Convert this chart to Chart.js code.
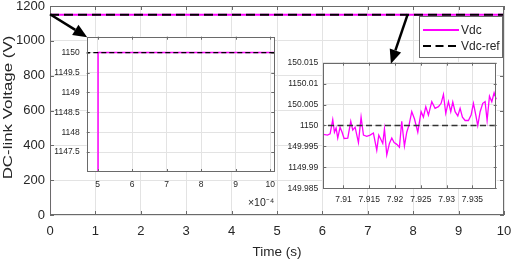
<!DOCTYPE html>
<html><head><meta charset="utf-8">
<script src="https://cdn.jsdelivr.net/npm/chart.js@4.4.1/dist/chart.umd.min.js"></script>
<style>
html,body{margin:0;padding:0;background:#fff;}
#wrap{position:relative;width:512px;height:263px;overflow:hidden;background:#fff;}
canvas{position:absolute;}
#main{left:0;top:0;width:512px;height:263px;}
#in1{left:52px;top:30px;width:230px;height:182px;}
#in2{left:283px;top:56px;width:220px;height:170px;}
#ov{left:0;top:0;width:512px;height:263px;pointer-events:none;}
</style></head><body>
<div id="wrap">
<canvas id="main" width="512" height="263"></canvas>
<canvas id="in1" width="230" height="182"></canvas>
<canvas id="in2" width="220" height="170"></canvas>
<canvas id="ov" width="512" height="263"></canvas>
</div>
<script>
// ---- data ----
const seriesNames = ['Vdc', 'Vdc-ref'];
const yTitle = 'DC-link Voltage (V)';
const xTitle = 'Time (s)';
const riseTime = [0, 0.000501, 0.000501];
const riseVolt = [0, 0, 1150];
const zoomTime = [7.90612, 7.9069, 7.90742, 7.90793, 7.90826, 7.90858, 7.9089, 7.90935, 7.90974, 7.91013,
  7.91084, 7.91142, 7.91181, 7.91226, 7.91291, 7.91342, 7.91388, 7.91452, 7.91517, 7.91581,
  7.91646, 7.91685, 7.91724, 7.91762, 7.91795, 7.9184, 7.91891, 7.91937, 7.91982, 7.92034,
  7.92085, 7.9213, 7.92182, 7.92227, 7.92273, 7.92324, 7.92376, 7.92441, 7.92505, 7.9255,
  7.92596, 7.92647, 7.92712, 7.92776, 7.92841, 7.92893, 7.92938, 7.92983, 7.93035, 7.9308,
  7.93119, 7.93164, 7.93216, 7.93261, 7.93306, 7.93358, 7.93422, 7.93474, 7.93519, 7.93565,
  7.93603, 7.93649, 7.937, 7.93745, 7.93784, 7.9383, 7.93875, 7.9392, 7.93959];
const zoomVolt = [1149.99787, 1149.9977, 1149.998, 1150.0014, 1149.9984, 1149.9994, 1149.997, 1149.9996, 1149.9984, 1149.9969,
  1149.997, 1150.001, 1149.9989, 1149.9996, 1149.9959, 1150.002, 1149.9977, 1149.9974, 1149.9977, 1149.9982,
  1149.9941, 1149.9977, 1149.9967, 1149.9957, 1149.9992, 1149.993, 1149.9957, 1149.997, 1149.9959, 1149.9955,
  1149.9948, 1150.001, 1149.9951, 1149.9984, 1150.0002, 1150.0033, 1150.0016, 1149.9984, 1150.0033, 1150.002,
  1150.0045, 1150.0025, 1150.0057, 1150.0041, 1150.0045, 1150.0053, 1150.0074, 1150.0029, 1150.0057, 1150.0033,
  1150.0056, 1150.0033, 1150.0023, 1150.0041, 1150.002, 1150.0012, 1150.0012, 1150.0025, 1150.0053, 1150.0025,
  1150.0, 1150.0033, 1150.0053, 1150.0057, 1150.0012, 1150.007, 1150.0057, 1150.0078, 1150.0064];
const tailTime = [10];
const tailVolt = [1150];
const refTime = [0, 10];
const refVolt = [1150, 1150];

const mainXTicks = [0,1,2,3,4,5,6,7,8,9,10];
const mainYTicks = [0,200,400,600,800,1000,1200];
const in1XTicks = [5e-4,6e-4,7e-4,8e-4,9e-4,10e-4];
const in1XLabels = ['5','6','7','8','9','10'];
const in1YTicks = [1147.5,1148,1148.5,1149,1149.5,1150];
const in1YLabels = ['1147.5','1148','1148.5','1149','1149.5','1150'];
const in1Exponent = '\u00d710\u207b\u2074';
const in2XTicks = [7.91,7.915,7.92,7.925,7.93,7.935];
const in2XLabels = ['7.91','7.915','7.92','7.925','7.93','7.935'];
const in2YTicks = [1149.985,1149.99,1149.995,1150,1150.005,1150.01,1150.015];
const in2YLabels = ['149.985','1149.99','149.995','1150','150.005','1150.01','150.015'];

// ---- build ----
const vdcT = riseTime.concat(zoomTime, tailTime);
const vdcV = riseVolt.concat(zoomVolt, tailVolt);
const vdcData = vdcT.map((t,i)=>({x:t, y:vdcV[i]}));
const refData = refTime.map((t,i)=>({x:t, y:refVolt[i]}));

const FONT = '"Liberation Sans", Arial, Helvetica, sans-serif';
const TXT = '#262626';
const BOX = '#6a6a6a';
const GRID = '#e3e3e3';
const MAG = '#ff00ff';

function boxPlugin(tickLen, fillWhite){
  return {
    id:'box'+tickLen,
    beforeDraw(chart){
      if(!fillWhite) return;
      const a=chart.chartArea, c=chart.ctx;
      c.save(); c.fillStyle='#fff'; c.fillRect(a.left,a.top,a.right-a.left,a.bottom-a.top); c.restore();
    },
    afterDraw(chart){
      const a=chart.chartArea, c=chart.ctx;
      c.save();
      c.strokeStyle=BOX; c.lineWidth=1;
      c.strokeRect(Math.round(a.left)+0.5, Math.round(a.top)+0.5, Math.round(a.right-a.left)-1, Math.round(a.bottom-a.top)-1);
      c.beginPath();
      chart.scales.x.ticks.forEach(t=>{
        const p=Math.round(chart.scales.x.getPixelForValue(t.value))+0.5;
        c.moveTo(p,a.bottom); c.lineTo(p,a.bottom-tickLen);
        c.moveTo(p,a.top); c.lineTo(p,a.top+tickLen);
      });
      chart.scales.y.ticks.forEach(t=>{
        const p=Math.round(chart.scales.y.getPixelForValue(t.value))+0.5;
        c.moveTo(a.left,p); c.lineTo(a.left+tickLen,p);
        c.moveTo(a.right,p); c.lineTo(a.right-tickLen,p);
      });
      c.stroke();
      c.restore();
    }
  };
}

const yTitlePlugin = {
  id:'ytitle',
  afterDraw(chart){
    const c=chart.ctx, a=chart.chartArea;
    c.save();
    c.translate(8, (a.top+a.bottom)/2 - 3);
    c.rotate(-Math.PI/2);
    c.scale(1.3,1);
    c.font = '13px ' + FONT;
    c.fillStyle = TXT; c.textAlign='center'; c.textBaseline='middle';
    c.fillText(yTitle, 0, 0);
    c.restore();
  }
};

const legendPlugin = {
  id:'lg',
  afterDraw(chart){
    const c=chart.ctx;
    const L=419.5, T=16.5, W=83, H=41;
    c.save();
    c.fillStyle='#fff'; c.fillRect(L,T,W,H);
    c.strokeStyle=BOX; c.lineWidth=1; c.strokeRect(L,T,W,H);
    chart.data.datasets.forEach((ds,i)=>{
      const y = 30 + i*16;
      c.beginPath();
      c.strokeStyle = ds.borderColor; c.lineWidth = 2;
      c.setLineDash(ds.legendDash || []);
      c.moveTo(423,y); c.lineTo(459,y); c.stroke();
      c.setLineDash([]);
      c.fillStyle = TXT; c.font = '12px ' + FONT; c.textBaseline='middle'; c.textAlign='left';
      c.fillText(ds.label, 461, y+0.5);
    });
    c.restore();
  }
};

function fixTicks(arr){ return s=>{ s.ticks = arr.map(v=>({value:v})); }; }
function fitX(h){ return s=>{ s.height=h; s.paddingLeft=0; s.paddingRight=0; s.paddingTop=0; s.paddingBottom=0; }; }
function fitY(w){ return s=>{ s.width=w; s.paddingLeft=0; s.paddingRight=0; s.paddingTop=0; s.paddingBottom=0; }; }

const mainChart = new Chart(document.getElementById('main'), {
  type:'line',
  data:{datasets:[
    {label:seriesNames[0], data:vdcData, borderColor:MAG, borderWidth:2, pointRadius:0, tension:0, order:2},
    {label:seriesNames[1], data:refData, borderColor:'#000', borderWidth:2, borderDash:[9,5], legendDash:[8,4.5], pointRadius:0, tension:0, order:1}
  ]},
  options:{
    responsive:false, animation:false, events:[],
    layout:{padding:{top:6,right:8,left:0,bottom:0}},
    plugins:{legend:{display:false}, tooltip:{enabled:false}},
    scales:{
      x:{type:'linear', min:0, max:10,
        afterBuildTicks:fixTicks(mainXTicks),
        afterFit:fitX(48),
        grid:{color:GRID, drawTicks:false},
        border:{display:false},
        ticks:{font:{family:FONT,size:13,lineHeight:1.2}, color:TXT, padding:9, maxRotation:0,
          callback:(v)=>String(v)},
        title:{display:true, text:xTitle, font:{family:FONT,size:13.5,lineHeight:1.2}, color:TXT, padding:{top:0,bottom:3}}
      },
      y:{type:'linear', min:0, max:1200,
        afterBuildTicks:fixTicks(mainYTicks),
        afterFit:fitY(50),
        grid:{color:GRID, drawTicks:false},
        border:{display:false},
        ticks:{font:{family:FONT,size:13,lineHeight:1}, color:TXT, padding:5, callback:(v)=>String(v)}
      }
    }
  },
  plugins:[boxPlugin(4,false), yTitlePlugin, legendPlugin]
});

const in1Chart = new Chart(document.getElementById('in1'), {
  type:'line',
  data:{datasets:[
    {label:seriesNames[0], data:vdcData, borderColor:MAG, borderWidth:1.5, pointRadius:0, tension:0, order:2},
    {label:seriesNames[1], data:refData, borderColor:'#000', borderWidth:1.3, borderDash:[5,3], pointRadius:0, tension:0, order:1}
  ]},
  options:{
    responsive:false, animation:false, events:[],
    layout:{padding:{top:6.7,right:7.7,left:0,bottom:0}},
    plugins:{legend:{display:false}, tooltip:{enabled:false}},
    scales:{
      x:{type:'linear', min:4.68e-4, max:10.12e-4,
        afterBuildTicks:fixTicks(in1XTicks),
        afterFit:fitX(40),
        grid:{color:GRID, drawTicks:false},
        border:{display:false},
        ticks:{font:{family:FONT,size:8.5,lineHeight:1.2}, color:TXT, padding:8, maxRotation:0,
          callback:(v,i)=>in1XLabels[i]},
        title:{display:true, align:'end', text:in1Exponent, font:{family:FONT,size:10.5,lineHeight:1.2}, color:TXT, padding:{top:0,bottom:3}}
      },
      y:{type:'linear', min:1147.0, max:1150.4,
        afterBuildTicks:fixTicks(in1YTicks),
        afterFit:fitY(34.7),
        grid:{color:GRID, drawTicks:false},
        border:{display:false},
        ticks:{font:{family:FONT,size:8.5,lineHeight:1.2}, color:TXT, padding:7, callback:(v,i)=>in1YLabels[i]}
      }
    }
  },
  plugins:[boxPlugin(3,true)]
});

const in2Chart = new Chart(document.getElementById('in2'), {
  type:'line',
  data:{datasets:[
    {label:seriesNames[0], data:vdcData, borderColor:MAG, borderWidth:1.3, pointRadius:0, tension:0, order:2},
    {label:seriesNames[1], data:refData, borderColor:'#333', borderWidth:1.5, borderDash:[6,3.5], pointRadius:0, tension:0, order:1}
  ]},
  options:{
    responsive:false, animation:false, events:[],
    layout:{padding:{top:6.7,right:6.3,left:0,bottom:0}},
    plugins:{legend:{display:false}, tooltip:{enabled:false}},
    scales:{
      x:{type:'linear', min:7.9061, max:7.9397,
        afterBuildTicks:fixTicks(in2XTicks),
        afterFit:fitX(37.7),
        grid:{color:GRID, drawTicks:false},
        border:{display:false},
        ticks:{font:{family:FONT,size:8.5,lineHeight:1.2}, color:TXT, padding:6, maxRotation:0,
          callback:(v,i)=>in2XLabels[i]}
      },
      y:{type:'linear', min:1149.985, max:1150.015,
        afterBuildTicks:fixTicks(in2YTicks),
        afterFit:fitY(40.3),
        grid:{color:GRID, drawTicks:false},
        border:{display:false},
        ticks:{font:{family:FONT,size:8.5,lineHeight:1.2}, color:TXT, padding:5, callback:(v,i)=>in2YLabels[i]}
      }
    }
  },
  plugins:[boxPlugin(3,true)]
});

// ---- arrows (annotations linking main curve to insets) ----
const arrowFrom = [[0,1150],[7.88,1150]];
const arrowTo2X = 7.9192;
(function(){
  const c = document.getElementById('ov').getContext('2d');
  const mx = mainChart.scales.x, my = mainChart.scales.y;
  const a1 = in1Chart.chartArea, a2 = in2Chart.chartArea;
  const ends = [
    [52 + a1.left + 0.5, 30 + a1.top + 0.5],
    [283 + in2Chart.scales.x.getPixelForValue(arrowTo2X), 56 + a2.top + 1]
  ];
  c.fillStyle='#000'; c.strokeStyle='#000'; c.lineWidth=2.5; c.lineCap='butt';
  arrowFrom.forEach((f,i)=>{
    const x0 = mx.getPixelForValue(f[0]), y0 = my.getPixelForValue(f[1]) - 0.5;
    const [x1,y1] = ends[i];
    const ang = Math.atan2(y1-y0, x1-x0);
    const hl = 14, hw = 6;
    const bx = x1 - hl*Math.cos(ang), by = y1 - hl*Math.sin(ang);
    c.beginPath(); c.moveTo(x0,y0); c.lineTo(bx,by); c.stroke();
    c.beginPath(); c.moveTo(x1,y1);
    c.lineTo(bx + hw*Math.sin(ang), by - hw*Math.cos(ang));
    c.lineTo(bx - hw*Math.sin(ang), by + hw*Math.cos(ang));
    c.closePath(); c.fill();
  });
})();
</script>
</body></html>
